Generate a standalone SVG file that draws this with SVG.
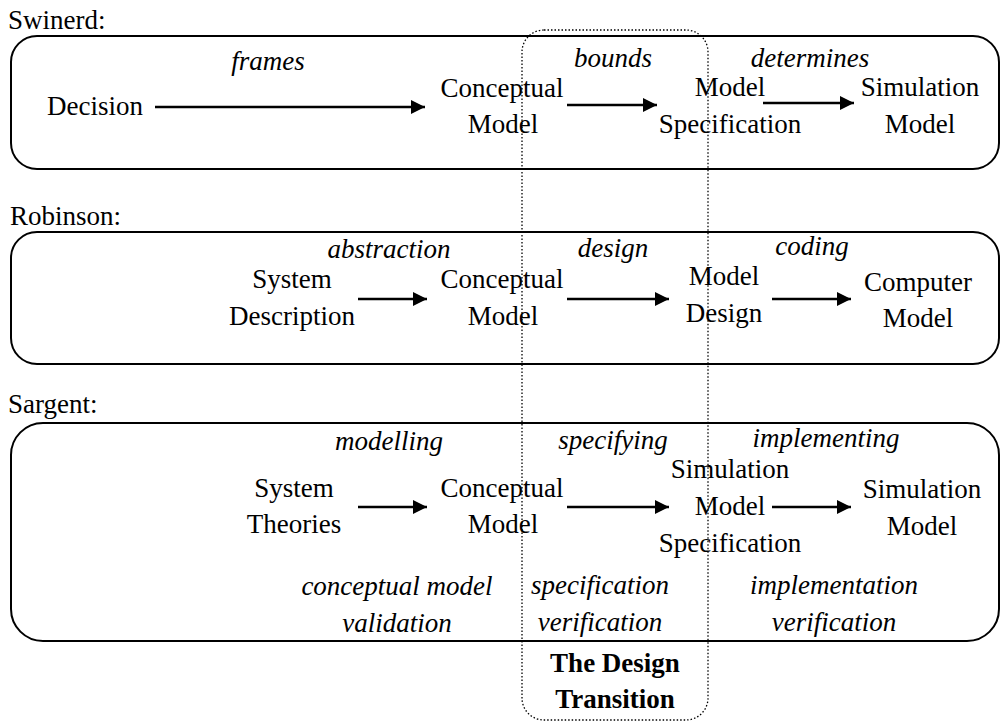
<svg xmlns="http://www.w3.org/2000/svg" width="1000" height="722" viewBox="0 0 1000 722">
  <style>
    text { font-family: "Liberation Serif", "Times New Roman", serif; font-size: 27px; fill: #000; }
    .c { text-anchor: middle; }
    .i { font-style: italic; }
    .b { font-weight: bold; }
    .panel { fill: none; stroke: #000; stroke-width: 2; }
    .transition { fill: none; stroke: #000; stroke-width: 1.3; stroke-dasharray: 1.5 2; }
    .flow { stroke: #000; stroke-width: 2.5; fill: none; marker-end: url(#head); }
  </style>
  <defs>
    <marker id="head" viewBox="0 0 14 14" refX="14" refY="7" markerWidth="14" markerHeight="14" markerUnits="userSpaceOnUse" orient="auto">
      <path d="M0,0 L14,7 L0,14 Z" fill="#000"/>
    </marker>
  </defs>

  <!-- Swinerd panel -->
  <g id="swinerd">
    <text x="8" y="29">Swinerd:</text>
    <rect class="panel" x="11" y="36" width="988" height="133" rx="26" ry="26"/>
  </g>
  <g id="sw-decision"><text class="c" x="95" y="115">Decision</text></g>
  <g id="sw-conceptual"><text class="c" x="502" y="97">Conceptual</text><text class="c" x="503" y="133">Model</text></g>
  <g id="sw-spec"><text class="c" x="730" y="96">Model</text><text class="c" x="730" y="133">Specification</text></g>
  <g id="sw-sim"><text class="c" x="920" y="96">Simulation</text><text class="c" x="920" y="133">Model</text></g>

  <!-- Robinson panel -->
  <g id="robinson">
    <text x="10" y="225">Robinson:</text>
    <rect class="panel" x="11" y="232" width="988" height="132" rx="26" ry="26"/>
  </g>
  <g id="rb-system"><text class="c" x="292" y="288">System</text><text class="c" x="292" y="325">Description</text></g>
  <g id="rb-conceptual"><text class="c" x="502" y="288">Conceptual</text><text class="c" x="503" y="325">Model</text></g>
  <g id="rb-design"><text class="c" x="724" y="285">Model</text><text class="c" x="724" y="322">Design</text></g>
  <g id="rb-computer"><text class="c" x="918" y="291">Computer</text><text class="c" x="918" y="327">Model</text></g>

  <!-- Sargent panel -->
  <g id="sargent">
    <text x="8" y="413">Sargent:</text>
    <rect class="panel" x="11" y="423" width="988" height="218" rx="32" ry="32"/>
  </g>
  <g id="sg-theories"><text class="c" x="294" y="497">System</text><text class="c" x="294" y="533">Theories</text></g>
  <g id="sg-conceptual"><text class="c" x="502" y="497">Conceptual</text><text class="c" x="503" y="533">Model</text></g>
  <g id="sg-spec"><text class="c" x="730" y="478">Simulation</text><text class="c" x="730" y="515">Model</text><text class="c" x="730" y="552">Specification</text></g>
  <g id="sg-sim"><text class="c" x="922" y="498">Simulation</text><text class="c" x="922" y="535">Model</text></g>

  <!-- Design transition band -->
  <g id="design-transition">
    <rect class="transition" x="522" y="30" width="186" height="690" rx="22" ry="22"/>
    <text class="c b" x="615" y="672">The Design</text>
    <text class="c b" x="615" y="708">Transition</text>
  </g>

  <!-- Connectors and their labels -->
  <g id="connectors">
    <line class="flow" x1="155" y1="107" x2="425" y2="107"/>
    <line class="flow" x1="567" y1="105" x2="657" y2="105"/>
    <line class="flow" x1="763" y1="103" x2="854" y2="103"/>

    <line class="flow" x1="358" y1="299" x2="427" y2="299"/>
    <line class="flow" x1="567" y1="299" x2="669" y2="299"/>
    <line class="flow" x1="772" y1="299" x2="851" y2="299"/>

    <line class="flow" x1="358" y1="507" x2="427" y2="507"/>
    <line class="flow" x1="567" y1="507" x2="669" y2="507"/>
    <line class="flow" x1="772" y1="507" x2="851" y2="507"/>

    <text class="c i" x="268" y="70">frames</text>
    <text class="c i" x="613" y="67">bounds</text>
    <text class="c i" x="810" y="67">determines</text>

    <text class="c i" x="389" y="258">abstraction</text>
    <text class="c i" x="613" y="257">design</text>
    <text class="c i" x="812" y="255">coding</text>

    <text class="c i" x="389" y="450">modelling</text>
    <text class="c i" x="613" y="449">specifying</text>
    <text class="c i" x="826" y="447">implementing</text>

    <text class="c i" x="397" y="595">conceptual model</text>
    <text class="c i" x="397" y="632">validation</text>
    <text class="c i" x="600" y="594">specification</text>
    <text class="c i" x="600" y="631">verification</text>
    <text class="c i" x="834" y="594">implementation</text>
    <text class="c i" x="834" y="631">verification</text>
  </g>
</svg>
